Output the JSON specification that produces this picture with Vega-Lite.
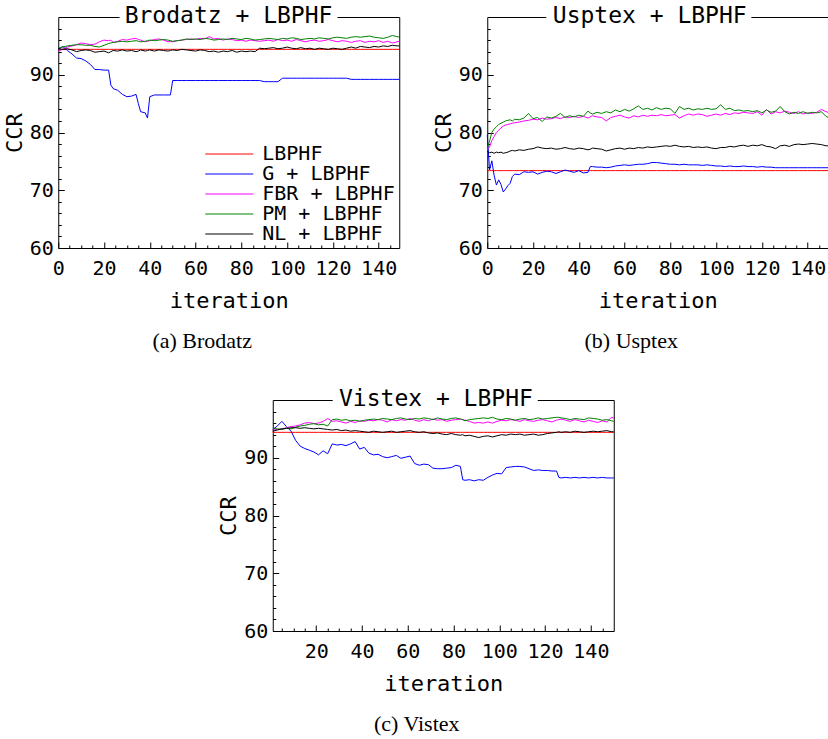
{
"$schema": "https://vega.github.io/schema/vega-lite/v6.json",
"padding": {"left": 2, "top": 4, "right": 0, "bottom": 2},
"background": "white",
"config": {
  "view": {"stroke": "black", "strokeWidth": 1},
  "font": "DejaVu Sans Mono",
  "axis": {"labelFont": "DejaVu Sans Mono", "labelFontSize": 20, "labelColor": "black", "tickColor": "black", "tickWidth": 1, "titleFont": "DejaVu Sans Mono", "titleFontSize": 22, "titleFontWeight": "normal", "titleColor": "black", "domain": false, "grid": false, "labelOverlap": false, "labelFlush": false, "labelBound": false, "tickCount": 100, "format": "d"}
},
"datasets": {
"brodatz": [
{"i":0,"L":94.4,"G":94.4,"F":94.1,"P":94.6,"N":94.5},
{"i":2,"L":94.4,"G":94.9,"F":94.4,"P":94.8,"N":94.4},
{"i":4,"L":94.4,"G":94.2,"F":94.8,"P":95.0,"N":94.5},
{"i":6,"L":94.4,"G":93.6,"F":95.0,"P":95.1,"N":94.3},
{"i":8,"L":94.4,"G":92.9,"F":95.2,"P":95.2,"N":94.0},
{"i":10,"L":94.4,"G":92.8,"F":95.5,"P":95.2,"N":94.2},
{"i":12,"L":94.4,"G":92.4,"F":95.4,"P":95.1,"N":94.3},
{"i":14,"L":94.4,"G":91.8,"F":95.2,"P":95.1,"N":94.2},
{"i":16,"L":94.4,"G":90.9,"F":95.3,"P":94.9,"N":93.9},
{"i":18,"L":94.4,"G":90.9,"F":95.7,"P":94.8,"N":94.0},
{"i":20,"L":94.4,"G":90.8,"F":96.0,"P":95.1,"N":94.1},
{"i":22,"L":94.4,"G":90.8,"F":95.9,"P":95.4,"N":93.8},
{"i":23,"L":94.4,"G":88.2,"F":96.0,"P":95.5,"N":94.0},
{"i":24,"L":94.4,"G":87.6,"F":95.6,"P":95.6,"N":94.2},
{"i":26,"L":94.4,"G":87.3,"F":95.8,"P":95.7,"N":94.1},
{"i":28,"L":94.4,"G":86.6,"F":96.1,"P":95.8,"N":94.3},
{"i":30,"L":94.4,"G":86.2,"F":96.0,"P":95.7,"N":94.1},
{"i":32,"L":94.4,"G":86.3,"F":96.2,"P":95.8,"N":94.2},
{"i":34,"L":94.4,"G":86.6,"F":96.3,"P":95.9,"N":94.0},
{"i":35,"L":94.4,"G":85.0,"F":96.1,"P":95.8,"N":94.1},
{"i":36,"L":94.4,"G":83.6,"F":96.0,"P":95.7,"N":94.3},
{"i":38,"L":94.4,"G":83.4,"F":95.7,"P":95.8,"N":94.1},
{"i":39,"L":94.4,"G":82.5,"F":95.8,"P":95.9,"N":94.2},
{"i":40,"L":94.4,"G":86.2,"F":95.9,"P":96.0,"N":94.3},
{"i":42,"L":94.4,"G":86.5,"F":96.1,"P":95.9,"N":94.1},
{"i":44,"L":94.4,"G":86.5,"F":96.2,"P":96.0,"N":94.3},
{"i":46,"L":94.4,"G":86.5,"F":96.0,"P":96.1,"N":94.2},
{"i":48,"L":94.4,"G":86.5,"F":95.7,"P":96.0,"N":94.1},
{"i":49,"L":94.4,"G":86.5,"F":95.8,"P":95.9,"N":94.2},
{"i":50,"L":94.4,"G":89.0,"F":95.7,"P":95.8,"N":94.3},
{"i":52,"L":94.4,"G":89.0,"F":95.9,"P":95.9,"N":94.2},
{"i":54,"L":94.4,"G":89.0,"F":96.0,"P":96.0,"N":94.4},
{"i":56,"L":94.4,"G":89.0,"F":96.1,"P":96.2,"N":94.3},
{"i":58,"L":94.4,"G":89.0,"F":96.2,"P":96.1,"N":94.2},
{"i":60,"L":94.4,"G":89.0,"F":96.1,"P":96.2,"N":94.1},
{"i":62,"L":94.4,"G":89.0,"F":96.3,"P":96.1,"N":94.3},
{"i":64,"L":94.4,"G":89.0,"F":96.2,"P":96.3,"N":94.2},
{"i":66,"L":94.4,"G":89.0,"F":96.6,"P":96.2,"N":94.0},
{"i":68,"L":94.4,"G":89.0,"F":96.2,"P":96.0,"N":94.1},
{"i":70,"L":94.4,"G":89.0,"F":96.3,"P":96.1,"N":93.9},
{"i":72,"L":94.4,"G":89.0,"F":96.0,"P":96.2,"N":94.1},
{"i":74,"L":94.4,"G":89.0,"F":96.2,"P":96.1,"N":94.0},
{"i":76,"L":94.4,"G":89.0,"F":96.1,"P":96.3,"N":94.2},
{"i":78,"L":94.4,"G":89.0,"F":95.9,"P":96.2,"N":93.9},
{"i":80,"L":94.4,"G":89.0,"F":96.0,"P":96.1,"N":94.1},
{"i":82,"L":94.4,"G":89.0,"F":95.8,"P":96.3,"N":94.0},
{"i":84,"L":94.4,"G":89.0,"F":96.0,"P":96.2,"N":94.1},
{"i":86,"L":94.4,"G":89.0,"F":95.9,"P":96.0,"N":94.0},
{"i":88,"L":94.4,"G":89.0,"F":95.8,"P":96.1,"N":94.6},
{"i":90,"L":94.4,"G":88.8,"F":95.9,"P":96.2,"N":94.5},
{"i":92,"L":94.4,"G":88.8,"F":96.0,"P":96.3,"N":94.6},
{"i":94,"L":94.4,"G":88.8,"F":95.8,"P":96.2,"N":94.7},
{"i":96,"L":94.4,"G":88.8,"F":96.1,"P":96.1,"N":94.5},
{"i":98,"L":94.4,"G":89.4,"F":95.9,"P":96.3,"N":94.6},
{"i":100,"L":94.4,"G":89.4,"F":96.0,"P":96.2,"N":94.8},
{"i":102,"L":94.4,"G":89.4,"F":95.8,"P":96.4,"N":94.6},
{"i":104,"L":94.4,"G":89.4,"F":96.1,"P":96.3,"N":94.5},
{"i":106,"L":94.4,"G":89.4,"F":95.9,"P":96.1,"N":94.7},
{"i":108,"L":94.4,"G":89.4,"F":95.7,"P":96.2,"N":94.5},
{"i":110,"L":94.4,"G":89.4,"F":95.9,"P":96.3,"N":94.6},
{"i":112,"L":94.4,"G":89.4,"F":96.0,"P":96.2,"N":94.4},
{"i":114,"L":94.4,"G":89.4,"F":95.8,"P":96.4,"N":94.6},
{"i":116,"L":94.4,"G":89.4,"F":95.9,"P":96.3,"N":94.5},
{"i":118,"L":94.4,"G":89.4,"F":96.1,"P":96.2,"N":94.4},
{"i":120,"L":94.4,"G":89.4,"F":95.9,"P":96.4,"N":94.6},
{"i":122,"L":94.4,"G":89.4,"F":95.7,"P":96.5,"N":94.5},
{"i":124,"L":94.4,"G":89.4,"F":95.9,"P":96.4,"N":94.4},
{"i":126,"L":94.4,"G":89.4,"F":95.8,"P":96.3,"N":94.6},
{"i":128,"L":94.4,"G":89.2,"F":95.6,"P":96.5,"N":94.8},
{"i":130,"L":94.4,"G":89.2,"F":95.8,"P":96.6,"N":94.6},
{"i":132,"L":94.4,"G":89.2,"F":95.9,"P":96.5,"N":94.9},
{"i":134,"L":94.4,"G":89.2,"F":95.6,"P":96.6,"N":94.8},
{"i":136,"L":94.4,"G":89.2,"F":95.8,"P":96.7,"N":94.7},
{"i":138,"L":94.4,"G":89.2,"F":95.7,"P":96.5,"N":94.9},
{"i":140,"L":94.4,"G":89.2,"F":95.9,"P":96.4,"N":94.8},
{"i":142,"L":94.4,"G":89.2,"F":95.6,"P":96.3,"N":95.0},
{"i":144,"L":94.4,"G":89.2,"F":95.8,"P":96.5,"N":94.9},
{"i":146,"L":94.4,"G":89.2,"F":95.5,"P":96.8,"N":95.1},
{"i":148,"L":94.4,"G":89.2,"F":95.7,"P":96.6,"N":95.0},
{"i":149,"L":94.4,"G":89.2,"F":95.8,"P":96.5,"N":95.0}
],
"usptex": [
{"i":0,"L":73.4,"G":79.6,"F":77.0,"P":77.2,"N":76.7},
{"i":1,"L":73.4,"G":73.5,"F":77.5,"P":78.5,"N":76.5},
{"i":2,"L":73.4,"G":75.1,"F":78.6,"P":80.0,"N":76.6},
{"i":3,"L":73.4,"G":72.6,"F":79.3,"P":80.6,"N":76.4},
{"i":4,"L":73.4,"G":70.9,"F":80.0,"P":81.0,"N":76.6},
{"i":5,"L":73.4,"G":71.8,"F":80.4,"P":81.4,"N":76.5},
{"i":6,"L":73.4,"G":71.0,"F":80.8,"P":81.6,"N":76.6},
{"i":7,"L":73.4,"G":69.7,"F":81.1,"P":81.8,"N":76.4},
{"i":8,"L":73.4,"G":70.2,"F":81.3,"P":82.0,"N":76.5},
{"i":9,"L":73.4,"G":70.8,"F":81.4,"P":82.1,"N":76.6},
{"i":10,"L":73.4,"G":71.2,"F":81.5,"P":82.2,"N":76.8},
{"i":11,"L":73.4,"G":72.4,"F":81.6,"P":82.0,"N":76.9},
{"i":12,"L":73.4,"G":72.8,"F":81.7,"P":82.3,"N":76.8},
{"i":14,"L":73.4,"G":72.7,"F":81.8,"P":82.2,"N":77.0},
{"i":16,"L":73.4,"G":73.2,"F":82.0,"P":82.5,"N":76.9},
{"i":18,"L":73.4,"G":73.1,"F":82.1,"P":83.3,"N":77.1},
{"i":20,"L":73.4,"G":73.2,"F":82.3,"P":82.4,"N":77.2},
{"i":22,"L":73.4,"G":72.8,"F":82.2,"P":82.6,"N":77.5},
{"i":24,"L":73.4,"G":73.1,"F":82.5,"P":81.9,"N":77.3},
{"i":26,"L":73.4,"G":73.3,"F":82.3,"P":82.7,"N":77.2},
{"i":28,"L":73.4,"G":73.2,"F":82.4,"P":82.5,"N":77.3},
{"i":30,"L":73.4,"G":72.9,"F":82.6,"P":82.8,"N":77.1},
{"i":32,"L":73.4,"G":73.2,"F":82.4,"P":83.3,"N":77.2},
{"i":34,"L":73.4,"G":73.5,"F":82.7,"P":82.6,"N":77.4},
{"i":36,"L":73.4,"G":73.3,"F":82.6,"P":82.9,"N":77.2},
{"i":38,"L":73.4,"G":73.1,"F":82.8,"P":82.7,"N":77.1},
{"i":40,"L":73.4,"G":73.4,"F":82.6,"P":83.0,"N":77.3},
{"i":42,"L":73.4,"G":73.0,"F":82.8,"P":82.8,"N":77.2},
{"i":44,"L":73.4,"G":73.1,"F":82.5,"P":83.7,"N":77.0},
{"i":45,"L":73.4,"G":74.1,"F":82.7,"P":83.4,"N":77.1},
{"i":46,"L":73.4,"G":74.1,"F":82.9,"P":83.2,"N":77.3},
{"i":48,"L":73.4,"G":74.0,"F":82.7,"P":83.5,"N":77.2},
{"i":50,"L":73.4,"G":74.0,"F":82.6,"P":83.3,"N":77.1},
{"i":52,"L":73.4,"G":73.9,"F":82.0,"P":83.6,"N":76.8},
{"i":54,"L":73.4,"G":74.0,"F":82.6,"P":83.4,"N":77.0},
{"i":56,"L":73.4,"G":74.2,"F":82.8,"P":83.9,"N":77.2},
{"i":58,"L":73.4,"G":74.3,"F":83.0,"P":83.6,"N":77.3},
{"i":60,"L":73.4,"G":74.4,"F":82.7,"P":84.0,"N":77.1},
{"i":62,"L":73.4,"G":74.3,"F":82.5,"P":83.7,"N":77.3},
{"i":64,"L":73.4,"G":74.4,"F":82.9,"P":84.1,"N":77.2},
{"i":66,"L":73.4,"G":74.5,"F":82.7,"P":84.6,"N":77.4},
{"i":68,"L":73.4,"G":74.5,"F":83.0,"P":84.0,"N":77.3},
{"i":70,"L":73.4,"G":74.6,"F":82.8,"P":84.2,"N":77.5},
{"i":72,"L":73.4,"G":74.8,"F":83.0,"P":83.9,"N":77.4},
{"i":74,"L":73.4,"G":74.8,"F":82.9,"P":84.3,"N":77.5},
{"i":76,"L":73.4,"G":74.7,"F":83.1,"P":84.0,"N":77.6},
{"i":78,"L":73.4,"G":74.6,"F":82.9,"P":84.2,"N":77.7},
{"i":80,"L":73.4,"G":74.5,"F":83.0,"P":84.1,"N":77.6},
{"i":82,"L":73.4,"G":74.5,"F":83.1,"P":83.3,"N":77.8},
{"i":84,"L":73.4,"G":74.4,"F":82.5,"P":84.5,"N":77.6},
{"i":86,"L":73.4,"G":74.5,"F":82.9,"P":84.0,"N":77.5},
{"i":88,"L":73.4,"G":74.4,"F":83.2,"P":84.2,"N":77.6},
{"i":90,"L":73.4,"G":74.4,"F":83.0,"P":83.9,"N":77.4},
{"i":92,"L":73.4,"G":74.4,"F":83.2,"P":84.1,"N":77.5},
{"i":94,"L":73.4,"G":74.3,"F":83.1,"P":84.0,"N":77.4},
{"i":96,"L":73.4,"G":74.4,"F":82.8,"P":84.2,"N":77.5},
{"i":98,"L":73.4,"G":74.3,"F":83.0,"P":84.0,"N":77.3},
{"i":100,"L":73.4,"G":74.2,"F":83.2,"P":84.1,"N":77.2},
{"i":102,"L":73.4,"G":74.2,"F":83.0,"P":84.8,"N":77.4},
{"i":104,"L":73.4,"G":74.1,"F":83.3,"P":84.0,"N":77.4},
{"i":106,"L":73.4,"G":74.2,"F":83.1,"P":84.2,"N":77.6},
{"i":108,"L":73.4,"G":74.1,"F":83.4,"P":83.8,"N":77.5},
{"i":110,"L":73.4,"G":74.1,"F":83.3,"P":83.9,"N":77.7},
{"i":112,"L":73.4,"G":74.2,"F":83.5,"P":83.7,"N":77.8},
{"i":114,"L":73.4,"G":74.1,"F":83.4,"P":83.8,"N":77.6},
{"i":116,"L":73.4,"G":74.1,"F":83.3,"P":83.6,"N":77.8},
{"i":118,"L":73.4,"G":74.0,"F":83.6,"P":83.8,"N":77.7},
{"i":120,"L":73.4,"G":74.1,"F":83.0,"P":83.4,"N":77.9},
{"i":122,"L":73.4,"G":74.0,"F":84.0,"P":83.9,"N":77.6},
{"i":124,"L":73.4,"G":74.0,"F":83.2,"P":83.5,"N":77.5},
{"i":126,"L":73.4,"G":73.9,"F":83.6,"P":83.7,"N":77.2},
{"i":128,"L":73.4,"G":73.9,"F":83.4,"P":84.5,"N":77.7},
{"i":130,"L":73.4,"G":73.9,"F":83.7,"P":83.6,"N":77.8},
{"i":132,"L":73.4,"G":73.9,"F":83.5,"P":83.2,"N":77.6},
{"i":134,"L":73.4,"G":73.9,"F":83.3,"P":83.5,"N":77.9},
{"i":136,"L":73.4,"G":73.9,"F":83.6,"P":83.3,"N":78.0},
{"i":138,"L":73.4,"G":73.9,"F":83.2,"P":83.6,"N":77.9},
{"i":140,"L":73.4,"G":73.9,"F":83.4,"P":83.3,"N":78.0},
{"i":142,"L":73.4,"G":73.9,"F":83.3,"P":83.5,"N":78.1},
{"i":144,"L":73.4,"G":73.9,"F":83.5,"P":83.4,"N":78.0},
{"i":146,"L":73.4,"G":73.9,"F":84.0,"P":83.6,"N":77.9},
{"i":148,"L":73.4,"G":73.9,"F":83.6,"P":82.8,"N":77.7},
{"i":149,"L":73.4,"G":73.9,"F":83.5,"P":82.6,"N":77.7}
],
"vistex": [
{"i":1,"L":94.4,"G":94.9,"F":94.8,"P":95.1,"N":94.6},
{"i":3,"L":94.4,"G":95.5,"F":94.9,"P":95.0,"N":94.8},
{"i":5,"L":94.4,"G":96.3,"F":95.0,"P":94.9,"N":95.0},
{"i":7,"L":94.4,"G":95.4,"F":95.2,"P":95.1,"N":95.1},
{"i":9,"L":94.4,"G":94.6,"F":95.4,"P":95.0,"N":95.2},
{"i":11,"L":94.4,"G":93.0,"F":95.5,"P":95.3,"N":95.2},
{"i":13,"L":94.4,"G":92.0,"F":95.7,"P":95.5,"N":95.1},
{"i":15,"L":94.4,"G":91.6,"F":96.0,"P":95.6,"N":95.2},
{"i":17,"L":94.4,"G":91.3,"F":96.1,"P":95.8,"N":95.1},
{"i":19,"L":94.4,"G":91.0,"F":95.9,"P":95.9,"N":95.0},
{"i":21,"L":94.4,"G":90.5,"F":96.0,"P":95.7,"N":95.1},
{"i":23,"L":94.4,"G":91.2,"F":96.3,"P":95.8,"N":95.0},
{"i":25,"L":94.4,"G":90.7,"F":96.8,"P":95.5,"N":94.9},
{"i":27,"L":94.4,"G":92.4,"F":96.3,"P":96.6,"N":94.8},
{"i":29,"L":94.4,"G":92.2,"F":96.4,"P":96.7,"N":94.9},
{"i":31,"L":94.4,"G":92.3,"F":96.2,"P":96.5,"N":94.7},
{"i":33,"L":94.4,"G":92.1,"F":96.0,"P":96.6,"N":94.8},
{"i":35,"L":94.4,"G":92.4,"F":96.3,"P":96.4,"N":94.6},
{"i":37,"L":94.4,"G":92.8,"F":96.1,"P":96.5,"N":94.7},
{"i":39,"L":94.4,"G":91.5,"F":96.4,"P":96.3,"N":94.6},
{"i":41,"L":94.4,"G":91.8,"F":96.3,"P":96.5,"N":94.5},
{"i":43,"L":94.4,"G":90.8,"F":96.5,"P":96.6,"N":94.4},
{"i":45,"L":94.4,"G":90.5,"F":96.4,"P":96.7,"N":94.6},
{"i":47,"L":94.4,"G":90.6,"F":96.6,"P":96.6,"N":94.5},
{"i":49,"L":94.4,"G":90.2,"F":96.5,"P":96.8,"N":94.4},
{"i":51,"L":94.4,"G":90.0,"F":96.2,"P":96.7,"N":94.5},
{"i":53,"L":94.4,"G":90.2,"F":96.6,"P":96.6,"N":94.6},
{"i":55,"L":94.4,"G":90.4,"F":96.4,"P":96.8,"N":94.4},
{"i":57,"L":94.4,"G":89.9,"F":96.6,"P":96.9,"N":94.5},
{"i":59,"L":94.4,"G":90.1,"F":96.5,"P":96.7,"N":94.6},
{"i":61,"L":94.4,"G":90.3,"F":96.8,"P":96.6,"N":94.7},
{"i":63,"L":94.4,"G":89.0,"F":96.5,"P":96.8,"N":94.5},
{"i":65,"L":94.4,"G":88.7,"F":96.3,"P":96.7,"N":94.4},
{"i":67,"L":94.4,"G":88.9,"F":96.6,"P":96.9,"N":94.5},
{"i":69,"L":94.4,"G":88.8,"F":96.4,"P":96.8,"N":94.3},
{"i":71,"L":94.4,"G":88.2,"F":96.7,"P":96.6,"N":94.2},
{"i":73,"L":94.4,"G":88.1,"F":96.5,"P":96.9,"N":94.3},
{"i":75,"L":94.4,"G":88.1,"F":96.6,"P":96.7,"N":94.1},
{"i":77,"L":94.4,"G":88.2,"F":96.3,"P":96.6,"N":94.0},
{"i":79,"L":94.4,"G":88.3,"F":96.5,"P":96.8,"N":94.2},
{"i":81,"L":94.4,"G":88.7,"F":96.6,"P":96.9,"N":94.0},
{"i":83,"L":94.4,"G":88.5,"F":96.7,"P":96.7,"N":93.9},
{"i":84,"L":94.4,"G":86.2,"F":96.6,"P":96.6,"N":94.0},
{"i":85,"L":94.4,"G":86.1,"F":96.5,"P":96.4,"N":93.8},
{"i":87,"L":94.4,"G":86.2,"F":96.3,"P":96.6,"N":93.9},
{"i":89,"L":94.4,"G":86.0,"F":96.0,"P":96.7,"N":93.7},
{"i":91,"L":94.4,"G":86.2,"F":96.1,"P":96.8,"N":93.5},
{"i":93,"L":94.4,"G":86.1,"F":96.0,"P":96.9,"N":93.7},
{"i":95,"L":94.4,"G":86.6,"F":96.2,"P":96.8,"N":93.8},
{"i":97,"L":94.4,"G":87.0,"F":96.0,"P":97.0,"N":93.6},
{"i":99,"L":94.4,"G":87.3,"F":96.3,"P":96.7,"N":93.8},
{"i":101,"L":94.4,"G":87.2,"F":96.5,"P":96.6,"N":94.0},
{"i":103,"L":94.4,"G":88.3,"F":96.4,"P":96.8,"N":93.9},
{"i":105,"L":94.4,"G":88.4,"F":96.6,"P":96.7,"N":94.1},
{"i":107,"L":94.4,"G":88.5,"F":96.5,"P":96.5,"N":94.0},
{"i":109,"L":94.4,"G":88.5,"F":96.3,"P":96.7,"N":94.1},
{"i":111,"L":94.4,"G":88.4,"F":96.6,"P":96.8,"N":93.9},
{"i":113,"L":94.4,"G":88.1,"F":96.4,"P":96.6,"N":94.0},
{"i":115,"L":94.4,"G":87.8,"F":96.3,"P":96.7,"N":94.1},
{"i":117,"L":94.4,"G":87.9,"F":96.5,"P":96.9,"N":93.9},
{"i":119,"L":94.4,"G":87.8,"F":96.6,"P":96.7,"N":94.0},
{"i":121,"L":94.4,"G":87.8,"F":96.4,"P":96.8,"N":94.2},
{"i":123,"L":94.4,"G":87.7,"F":96.2,"P":96.9,"N":94.3},
{"i":125,"L":94.4,"G":87.7,"F":96.5,"P":97.0,"N":94.4},
{"i":126,"L":94.4,"G":86.6,"F":96.6,"P":97.0,"N":94.5},
{"i":127,"L":94.4,"G":86.5,"F":96.7,"P":96.9,"N":94.4},
{"i":129,"L":94.4,"G":86.6,"F":96.5,"P":96.8,"N":94.5},
{"i":131,"L":94.4,"G":86.5,"F":96.3,"P":96.6,"N":94.4},
{"i":133,"L":94.4,"G":86.6,"F":96.6,"P":96.8,"N":94.6},
{"i":135,"L":94.4,"G":86.5,"F":96.4,"P":96.7,"N":94.5},
{"i":137,"L":94.4,"G":86.6,"F":96.2,"P":96.6,"N":94.4},
{"i":139,"L":94.4,"G":86.5,"F":96.5,"P":96.9,"N":94.5},
{"i":141,"L":94.4,"G":86.6,"F":96.3,"P":96.8,"N":94.6},
{"i":143,"L":94.4,"G":86.5,"F":96.1,"P":96.7,"N":94.5},
{"i":145,"L":94.4,"G":86.6,"F":96.4,"P":96.5,"N":94.6},
{"i":147,"L":94.4,"G":86.5,"F":96.2,"P":96.6,"N":94.7},
{"i":149,"L":94.4,"G":86.5,"F":97.0,"P":96.4,"N":94.5},
{"i":150,"L":94.4,"G":86.5,"F":96.9,"P":96.3,"N":94.5}
]
},
"spacing": 34,
"center": true,
"resolve": {"scale": {"color": "independent"}, "legend": {"color": "independent"}},
"vconcat": [
{
"hconcat": [
{
"width": 341, "height": 231,
"title": {"text": "(a) Brodatz", "orient": "bottom", "anchor": "middle", "frame": "bounds", "font": "Liberation Serif", "fontSize": 22, "fontWeight": "normal", "color": "black", "offset": 20},
"layer": [
{
"data": {"name": "brodatz"},
"transform": [{"fold": ["L","G","F","P","N"], "as": ["s","v"]}],
"mark": {"type": "line", "strokeWidth": 1},
"encoding": {
"x": {"field": "i", "type": "quantitative", "scale": {"domain": [0,149], "nice": false, "zero": false}, "axis": {"values": [0,5,10,15,20,25,30,35,40,45,50,55,60,65,70,75,80,85,90,95,100,105,110,115,120,125,130,135,140,145], "tickCount": 100, "format": "d", "labelExpr": "datum.value % 20 === 0 ? datum.label : ''", "tickSize": {"condition": {"test": "datum.value % 20 === 0", "value": -6}, "value": -3}, "labelPadding": 16, "labelOverlap": false, "title": "iteration", "titlePadding": 9}},
"y": {"field": "v", "type": "quantitative", "scale": {"domain": [60,100], "nice": false, "zero": false}, "axis": {"values": [60,62,64,66,68,70,72,74,76,78,80,82,84,86,88,90,92,94,96,98], "tickCount": 100, "format": "d", "labelExpr": "datum.value % 10 === 0 ? datum.label : ''", "tickSize": {"condition": {"test": "datum.value % 10 === 0", "value": -6}, "value": -3}, "labelPadding": 11, "labelOverlap": false, "title": "CCR", "titlePadding": 3}},
"color": {"field": "s", "type": "nominal", "scale": {"domain": ["L","G","F","P","N"], "range": ["#ff0000","#0000ff","#ff00ff","#008000","#000000"]}, "legend": {"orient": "bottom-right", "offset": 4, "title": null, "symbolType": "M-4,0H4", "symbolSize": 144, "symbolStrokeWidth": 1, "labelFont": "DejaVu Sans Mono", "labelFontSize": 20, "labelColor": "black", "labelLimit": 400, "labelOffset": 23, "padding": 0, "rowPadding": 0, "labelExpr": "datum.label == 'L' ? 'LBPHF' : datum.label == 'G' ? 'G + LBPHF' : datum.label == 'F' ? 'FBR + LBPHF' : datum.label == 'P' ? 'PM + LBPHF' : 'NL + LBPHF'"}}
}
},
{
"data": {"values": [{}]},
"mark": {"type": "rect", "color": "white"},
"encoding": {"x": {"datum": 26.8}, "x2": {"datum": 122}, "y": {"datum": 99.5}, "y2": {"datum": 100.5}}
},
{
"data": {"values": [{"t": "Brodatz + LBPHF"}]},
"mark": {"type": "text", "font": "DejaVu Sans Mono", "fontSize": 23, "baseline": "alphabetic", "align": "center", "color": "black"},
"encoding": {"x": {"datum": 74.4}, "y": {"datum": 99.0}, "text": {"field": "t"}}
}
]
},
{
"width": 341, "height": 231,
"title": {"text": "(b) Usptex", "orient": "bottom", "anchor": "middle", "frame": "bounds", "font": "Liberation Serif", "fontSize": 22, "fontWeight": "normal", "color": "black", "offset": 20},
"layer": [
{
"data": {"name": "usptex"},
"transform": [{"fold": ["L","G","F","P","N"], "as": ["s","v"]}],
"mark": {"type": "line", "strokeWidth": 1},
"encoding": {
"x": {"field": "i", "type": "quantitative", "scale": {"domain": [0,149], "nice": false, "zero": false}, "axis": {"values": [0,5,10,15,20,25,30,35,40,45,50,55,60,65,70,75,80,85,90,95,100,105,110,115,120,125,130,135,140,145], "tickCount": 100, "format": "d", "labelExpr": "datum.value % 20 === 0 ? datum.label : ''", "tickSize": {"condition": {"test": "datum.value % 20 === 0", "value": -6}, "value": -3}, "labelPadding": 16, "labelOverlap": false, "title": "iteration", "titlePadding": 9}},
"y": {"field": "v", "type": "quantitative", "scale": {"domain": [60,100], "nice": false, "zero": false}, "axis": {"values": [60,62,64,66,68,70,72,74,76,78,80,82,84,86,88,90,92,94,96,98], "tickCount": 100, "format": "d", "labelExpr": "datum.value % 10 === 0 ? datum.label : ''", "tickSize": {"condition": {"test": "datum.value % 10 === 0", "value": -6}, "value": -3}, "labelPadding": 11, "labelOverlap": false, "title": "CCR", "titlePadding": 3}},
"color": {"field": "s", "type": "nominal", "scale": {"domain": ["L","G","F","P","N"], "range": ["#ff0000","#0000ff","#ff00ff","#008000","#000000"]}, "legend": null}
}
},
{
"data": {"values": [{}]},
"mark": {"type": "rect", "color": "white"},
"encoding": {"x": {"datum": 25.8}, "x2": {"datum": 115.4}, "y": {"datum": 99.5}, "y2": {"datum": 100.5}}
},
{
"data": {"values": [{"t": "Usptex + LBPHF"}]},
"mark": {"type": "text", "font": "DejaVu Sans Mono", "fontSize": 23, "baseline": "alphabetic", "align": "center", "color": "black"},
"encoding": {"x": {"datum": 71.0}, "y": {"datum": 99.0}, "text": {"field": "t"}}
}
]
}
],
"spacing": 29,
"resolve": {"scale": {"color": "independent"}, "legend": {"color": "independent"}}
},
{
"width": 341, "height": 231,
"title": {"text": "(c) Vistex", "orient": "bottom", "anchor": "middle", "frame": "bounds", "font": "Liberation Serif", "fontSize": 22, "fontWeight": "normal", "color": "black", "offset": 20},
"layer": [
{
"data": {"name": "vistex"},
"transform": [{"fold": ["L","G","F","P","N"], "as": ["s","v"]}],
"mark": {"type": "line", "strokeWidth": 1},
"encoding": {
"x": {"field": "i", "type": "quantitative", "scale": {"domain": [1,150], "nice": false, "zero": false}, "axis": {"values": [5,10,15,20,25,30,35,40,45,50,55,60,65,70,75,80,85,90,95,100,105,110,115,120,125,130,135,140,145], "tickCount": 100, "format": "d", "labelExpr": "datum.value % 20 === 0 ? datum.label : ''", "tickSize": {"condition": {"test": "datum.value % 20 === 0", "value": -6}, "value": -3}, "labelPadding": 16, "labelOverlap": false, "title": "iteration", "titlePadding": 9}},
"y": {"field": "v", "type": "quantitative", "scale": {"domain": [60,100], "nice": false, "zero": false}, "axis": {"values": [60,62,64,66,68,70,72,74,76,78,80,82,84,86,88,90,92,94,96,98], "tickCount": 100, "format": "d", "labelExpr": "datum.value % 10 === 0 ? datum.label : ''", "tickSize": {"condition": {"test": "datum.value % 10 === 0", "value": -6}, "value": -3}, "labelPadding": 11, "labelOverlap": false, "title": "CCR", "titlePadding": 3}},
"color": {"field": "s", "type": "nominal", "scale": {"domain": ["L","G","F","P","N"], "range": ["#ff0000","#0000ff","#ff00ff","#008000","#000000"]}, "legend": null}
}
},
{
"data": {"values": [{}]},
"mark": {"type": "rect", "color": "white"},
"encoding": {"x": {"datum": 27.2}, "x2": {"datum": 116.8}, "y": {"datum": 99.5}, "y2": {"datum": 100.5}}
},
{
"data": {"values": [{"t": "Vistex + LBPHF"}]},
"mark": {"type": "text", "font": "DejaVu Sans Mono", "fontSize": 23, "baseline": "alphabetic", "align": "center", "color": "black"},
"encoding": {"x": {"datum": 72.3}, "y": {"datum": 99.0}, "text": {"field": "t"}}
}
]
}
]
}
